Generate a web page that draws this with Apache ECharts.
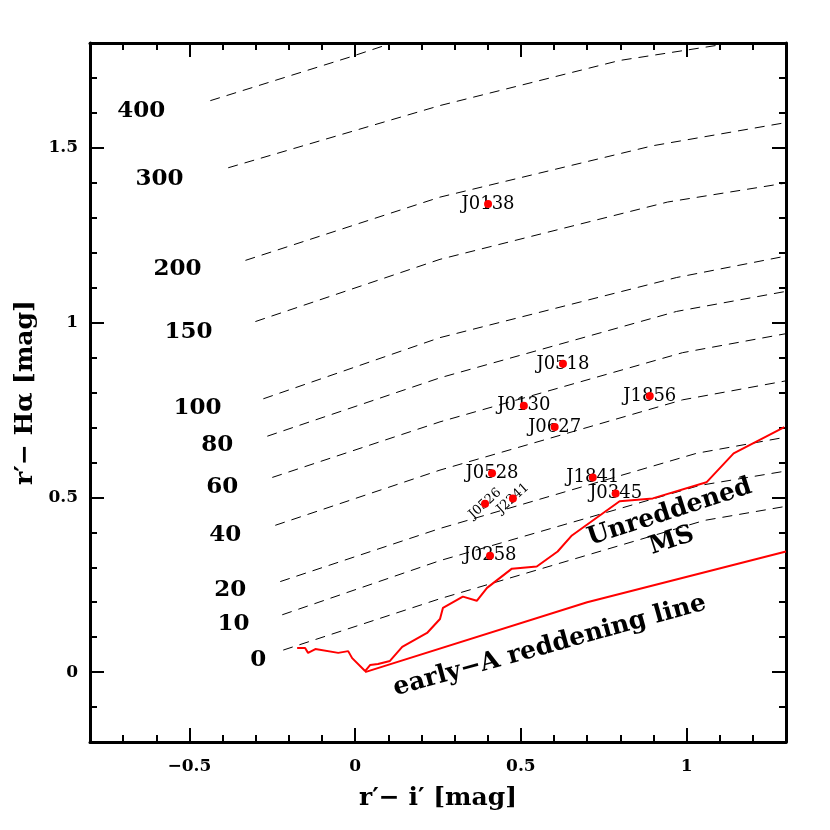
<!DOCTYPE html>
<html>
<head>
<meta charset="utf-8">
<script src="https://cdn.jsdelivr.net/npm/echarts@6/dist/echarts.min.js"></script>
<style>
  html, body { margin: 0; padding: 0; background: #fff; }
  #chart { width: 830px; height: 830px; }
</style>
</head>
<body>
<div id="chart"></div>
<script>
// tick labels
const xTicks = [-0.5, 0, 0.5, 1];
const yTicks = [0, 0.5, 1, 1.5];

// lines of constant H-alpha EW
const ewValues = [0, 10, 20, 40, 60, 80, 100, 150, 200, 300, 400];
const ewLineX = [
  [-0.217, 0.256, 1.054, 1.298],
  [-0.220, 0.256, 1.039, 1.298],
  [-0.226, 0.256, 1.030, 1.298],
  [-0.241, 0.256, 0.988, 1.298],
  [-0.250, 0.256, 0.988, 1.298],
  [-0.265, 0.256, 0.970, 1.298],
  [-0.277, 0.256, 0.970, 1.298],
  [-0.301, 0.256, 0.943, 1.298],
  [-0.331, 0.256, 0.898, 1.298],
  [-0.383, 0.256, 0.798, 1.090, 1.298],
  [-0.437, -0.015, 0.096, 0.256]
];
const ewLineY = [
  [0.063, 0.210, 0.434, 0.474],
  [0.164, 0.319, 0.534, 0.575],
  [0.259, 0.411, 0.626, 0.672],
  [0.420, 0.578, 0.779, 0.833],
  [0.557, 0.716, 0.914, 0.968],
  [0.675, 0.842, 1.032, 1.089],
  [0.782, 0.957, 1.129, 1.190],
  [1.003, 1.181, 1.345, 1.399],
  [1.178, 1.359, 1.506, 1.572],
  [1.443, 1.621, 1.750, 1.793, 1.825],
  [1.635, 1.760, 1.795, 1.850]
];
// where the EW numbers sit
const ewLabelX = [-0.292, -0.367, -0.377, -0.392, -0.401, -0.416, -0.476, -0.503, -0.536, -0.590, -0.645];
const ewLabelY = [0.034, 0.138, 0.236, 0.391, 0.529, 0.649, 0.756, 0.974, 1.152, 1.411, 1.606];

// unreddened main sequence
const msX = [-0.175, -0.151, -0.142, -0.120, -0.051, -0.021, -0.009, 0.030, 0.045, 0.069, 0.105, 0.142,
  0.217, 0.256, 0.265, 0.325, 0.367, 0.398, 0.473, 0.548, 0.611, 0.654, 0.798, 0.898, 1.060, 1.142, 1.295];
const msY = [0.069, 0.069, 0.055, 0.066, 0.055, 0.060, 0.040, 0.003, 0.020, 0.023, 0.032, 0.072,
  0.112, 0.152, 0.184, 0.216, 0.204, 0.241, 0.296, 0.302, 0.345, 0.391, 0.489, 0.497, 0.543, 0.626, 0.701];

// early-A reddening line
const redX = [0.03, 0.70, 1.30];
const redY = [0.0, 0.20, 0.345];

// objects
const starNames = ['J0138', 'J0518', 'J0130', 'J0627', 'J1856', 'J0528', 'J1841', 'J0345', 'J0526', 'J2241', 'J0258'];
const starX = [0.401, 0.627, 0.509, 0.602, 0.889, 0.413, 0.717, 0.786, 0.392, 0.476, 0.407];
const starY = [1.339, 0.882, 0.762, 0.701, 0.790, 0.569, 0.557, 0.511, 0.482, 0.497, 0.333];
const starRotate = [0, 0, 0, 0, 0, 0, 0, 0, 42, 42, 0];

const FONT = 'DejaVu Serif';
const minus = v => String(v).replace('-', '\u2212');
const plainText = { color: '#000', textBorderWidth: 0, textShadowBlur: 0 };

function xAxis(position, minor) {
  return {
    type: 'value', position: position, min: -0.8, max: 1.3,
    interval: minor ? 0.1 : undefined,
    name: (!minor && position === 'bottom') ? 'r\u2032\u2212 i\u2032 [mag]' : '',
    nameLocation: 'middle', nameGap: 44,
    nameTextStyle: { fontFamily: FONT, fontWeight: 'bold', fontSize: 25, color: '#000' },
    axisLine: { show: !minor, onZero: false, lineStyle: { color: '#000', width: 3 } },
    axisTick: minor
      ? { show: true, inside: true, length: 7, lineStyle: { color: '#000', width: 2 } }
      : { show: true, inside: true, length: 14, customValues: xTicks, lineStyle: { color: '#000', width: 2 } },
    axisLabel: (!minor && position === 'bottom')
      ? { show: true, customValues: xTicks, formatter: minus, margin: 16, fontFamily: FONT, fontWeight: 'bold', fontSize: 17, color: '#000' }
      : { show: false },
    splitLine: { show: false }
  };
}

function yAxis(position, minor) {
  return {
    type: 'value', position: position, min: -0.2, max: 1.8,
    interval: minor ? 0.1 : undefined,
    name: (!minor && position === 'left') ? 'r\u2032\u2212 H\u03b1 [mag]' : '',
    nameLocation: 'middle', nameGap: 50,
    nameTextStyle: { fontFamily: FONT, fontWeight: 'bold', fontSize: 25, color: '#000' },
    axisLine: { show: !minor, onZero: false, lineStyle: { color: '#000', width: 3 } },
    axisTick: minor
      ? { show: true, inside: true, length: 7, lineStyle: { color: '#000', width: 2 } }
      : { show: true, inside: true, length: 14, customValues: yTicks, lineStyle: { color: '#000', width: 2 } },
    axisLabel: (!minor && position === 'left')
      ? { show: true, customValues: yTicks, formatter: minus, margin: 12, fontFamily: FONT, fontWeight: 'bold', fontSize: 17, color: '#000' }
      : { show: false },
    splitLine: { show: false }
  };
}

const chart = echarts.init(document.getElementById('chart'));

const ewSeries = ewValues.map((v, i) => ({
  type: 'line', name: 'EW ' + v,
  data: ewLineX[i].map((x, j) => [x, ewLineY[i][j]]),
  symbol: 'none', silent: true, z: 2,
  lineStyle: { color: '#000', width: 1, type: [10, 7] }
}));

chart.setOption({
  animation: false,
  grid: { left: 90, right: 44, top: 43, bottom: 88 },
  xAxis: [xAxis('bottom', false), xAxis('bottom', true), xAxis('top', false), xAxis('top', true)],
  yAxis: [yAxis('left', false), yAxis('left', true), yAxis('right', false), yAxis('right', true)],
  series: ewSeries.concat([
    {
      type: 'line', name: 'MS',
      data: msX.map((x, i) => [x, msY[i]]),
      symbol: 'none', silent: true, z: 3,
      lineStyle: { color: '#ff0000', width: 2 }
    },
    {
      type: 'line', name: 'reddening',
      data: redX.map((x, i) => [x, redY[i]]),
      symbol: 'none', silent: true, z: 3,
      lineStyle: { color: '#ff0000', width: 2 }
    },
    {
      type: 'scatter', name: 'EW labels', symbolSize: 0, silent: true, z: 4,
      itemStyle: { color: 'transparent', opacity: 1 },
      data: ewValues.map((v, i) => [ewLabelX[i], ewLabelY[i], v]),
      label: Object.assign({
        show: true, position: 'inside', formatter: p => p.value[2],
        fontFamily: FONT, fontWeight: 'bold', fontSize: 23
      }, plainText)
    },
    {
      type: 'scatter', name: 'names', symbolSize: 0, silent: true, z: 4,
      itemStyle: { color: 'transparent', opacity: 1 },
      data: starNames.map((n, i) => ({
        name: n, value: [starX[i], starY[i]],
        label: starRotate[i] ? { rotate: starRotate[i], fontSize: 13 } : undefined
      })),
      label: Object.assign({
        show: true, position: 'inside', formatter: p => p.name,
        fontFamily: FONT, fontSize: 18
      }, plainText)
    },
    {
      type: 'scatter', name: 'stars', symbolSize: 8, silent: true, z: 5,
      itemStyle: { color: '#ff0000', opacity: 1 },
      data: starNames.map((n, i) => [starX[i], starY[i]])
    },
    {
      type: 'scatter', name: 'notes', symbolSize: 0, silent: true, z: 4,
      itemStyle: { color: 'transparent', opacity: 1 },
      data: [
        { value: [0.949, 0.457], name: 'Unreddened', label: { rotate: 18 } },
        { value: [0.955, 0.376], name: 'MS', label: { rotate: 18 } },
        { value: [0.587, 0.075], name: 'early\u2212A reddening line', label: { rotate: 15.5 } }
      ],
      label: Object.assign({
        show: true, position: 'inside', formatter: p => p.name,
        fontFamily: FONT, fontWeight: 'bold', fontSize: 25
      }, plainText)
    }
  ])
});
</script>
</body>
</html>
